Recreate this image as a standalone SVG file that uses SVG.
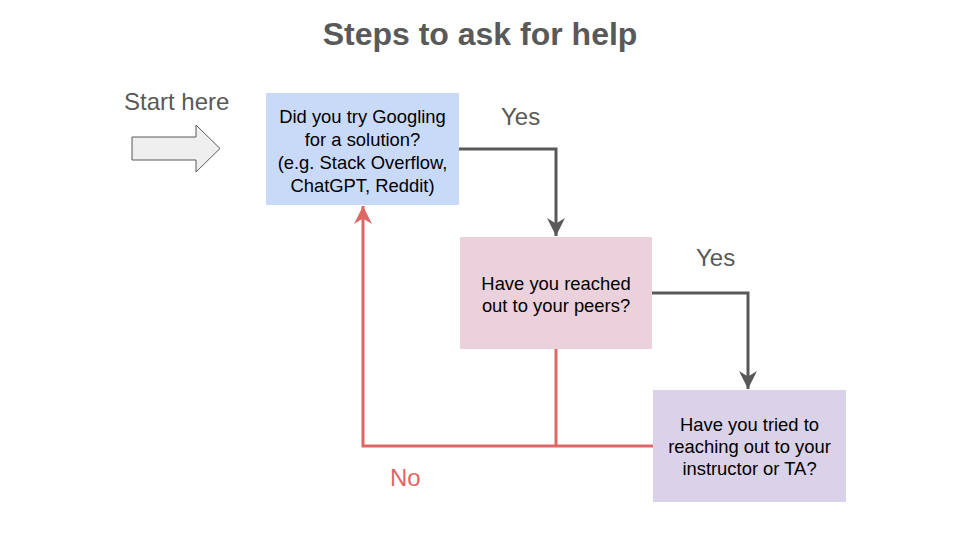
<svg xmlns="http://www.w3.org/2000/svg" width="960" height="540" viewBox="0 0 960 540">
<defs>
<style>
.t{font-family:"Liberation Sans",Arial,sans-serif;}
.box{font-size:18.4px;fill:#000;text-anchor:middle;}
.lbl{font-size:24px;fill:#595959;}
.g{fill:none;stroke:#595959;stroke-width:3;}
.r{fill:none;stroke:#e06666;stroke-width:3;}
</style>
<marker id="ag" viewBox="0 0 10 10" refX="10" refY="5" markerWidth="6" markerHeight="6" markerUnits="strokeWidth" orient="auto">
<path d="M0,0 L10,5 L0,10 L3,5 Z" fill="#595959"/>
</marker>
<marker id="ar" viewBox="0 0 10 10" refX="10" refY="5" markerWidth="6" markerHeight="6" markerUnits="strokeWidth" orient="auto">
<path d="M0,0 L10,5 L0,10 L3,5 Z" fill="#e06666"/>
</marker>
</defs>
<rect width="960" height="540" fill="#fff"/>
<text class="t" x="480" y="45" text-anchor="middle" font-size="32" font-weight="bold" fill="#595959">Steps to ask for help</text>
<g id="start">
<text class="t lbl" x="124" y="110">Start here</text>
<path d="M132,137 H196 V125 L220,148.5 L196,172 V160 H132 Z" fill="#efefef" stroke="#595959" stroke-width="1"/>
</g>
<g id="connectors">
<path class="g" d="M459,149 H556 V236" marker-end="url(#ag)"/>
<path class="g" d="M652,293 H748 V389" marker-end="url(#ag)"/>
<path class="r" d="M653,446 H363 V206" marker-end="url(#ar)"/>
<path class="r" d="M556,349 V446"/>
<text class="t lbl" x="501" y="125">Yes</text>
<text class="t lbl" x="696" y="266">Yes</text>
<text class="t" x="390" y="486" font-size="24" fill="#e06666">No</text>
</g>
<g id="n1">
<rect x="266" y="93" width="193" height="112" fill="#c9daf8"/>
<text class="t box" x="362.5" y="123">Did you try Googling</text>
<text class="t box" x="362.5" y="146">for a solution?</text>
<text class="t box" x="362.5" y="169">(e.g. Stack Overflow,</text>
<text class="t box" x="362.5" y="192">ChatGPT, Reddit)</text>
</g>
<g id="n2">
<rect x="460" y="237" width="192" height="112" fill="#ead1dc"/>
<text class="t box" x="556" y="290">Have you reached</text>
<text class="t box" x="556" y="312">out to your peers?</text>
</g>
<g id="n3">
<rect x="653" y="390" width="193" height="112" fill="#d9d2e9"/>
<text class="t box" x="749.5" y="431">Have you tried to</text>
<text class="t box" x="749.5" y="453">reaching out to your</text>
<text class="t box" x="749.5" y="475">instructor or TA?</text>
</g>
</svg>
